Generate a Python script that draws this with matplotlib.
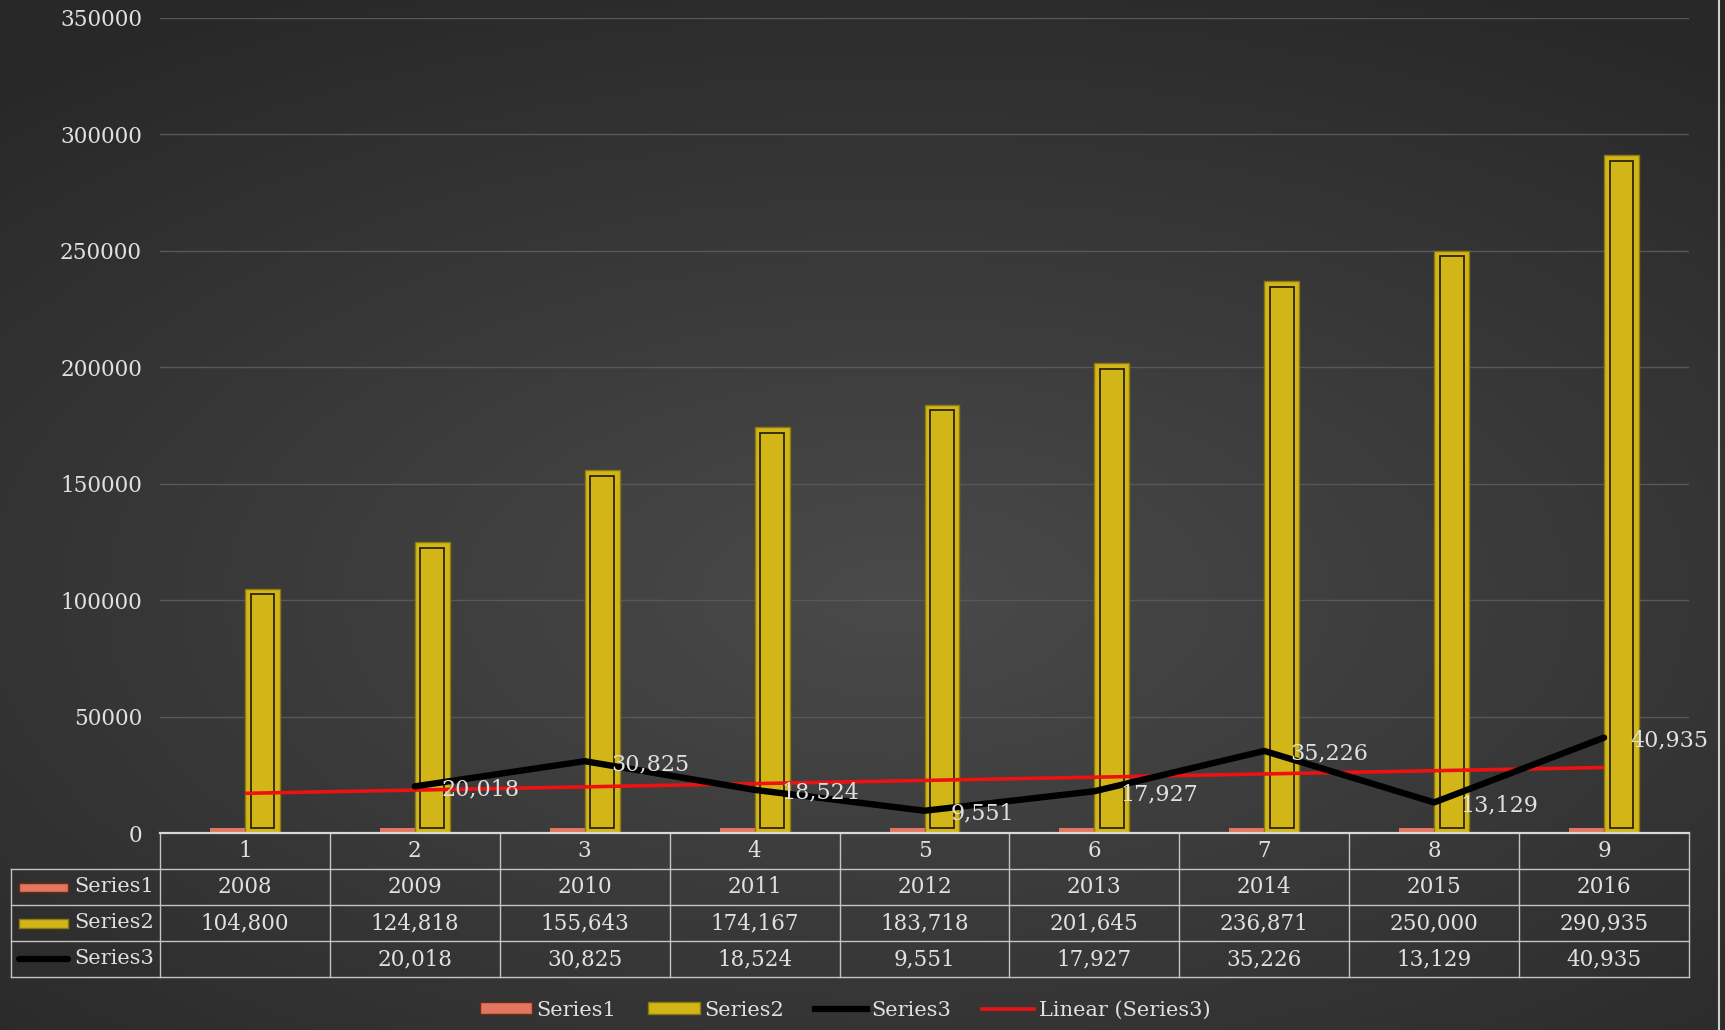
import numpy as np
import matplotlib
matplotlib.use("Agg")
import matplotlib.pyplot as plt
from matplotlib.patches import Patch, Rectangle
from matplotlib.lines import Line2D

# ---------------- data ----------------
categories = [1, 2, 3, 4, 5, 6, 7, 8, 9]
series1 = [2008, 2009, 2010, 2011, 2012, 2013, 2014, 2015, 2016]
series2 = [104800, 124818, 155643, 174167, 183718, 201645, 236871, 250000, 290935]
series3_x = [2, 3, 4, 5, 6, 7, 8, 9]
series3 = [20018, 30825, 18524, 9551, 17927, 35226, 13129, 40935]
yticks = [0, 50000, 100000, 150000, 200000, 250000, 300000, 350000]
series_names = ["Series1", "Series2", "Series3"]

# ---------------- style ----------------
FONT = "DejaVu Serif"
TXT = "#e0e0e0"
C1 = "#e2765f"
C1_EDGE = "#6a2a1c"
C2 = "#d2b617"
C2_EDGE = "#8c7a10"
C2_INNER = "#2c2400"
C3 = "#000000"
CTR = "#ee1111"
GRID = "#585858"
TABLE = "#c4c4c4"

W, H = 1725, 1030
fig = plt.figure(figsize=(W / 100, H / 100), dpi=100)

# background radial gradient
bg = fig.add_axes([0, 0, 1, 1], zorder=-10)
yy, xx = np.mgrid[0:1:300j, 0:1:500j]
d = np.sqrt(((xx - 0.52) / 1.0) ** 2 + ((yy - 0.42) / 0.85) ** 2)
v = np.clip(0.29 - 0.17 * d, 0.16, 0.30)
bg.imshow(np.dstack([v, v, v]), extent=[0, 1, 0, 1], aspect="auto", origin="lower")
bg.axis("off")

# main axes
left, right = 160 / W, 1689 / W
bottom, top = 1 - 833 / H, 1 - 17.6 / H
ax = fig.add_axes([left, bottom, right - left, top - bottom])
ax.set_facecolor("none")
for s in ax.spines.values():
    s.set_visible(False)

x = np.array(categories, dtype=float)
bw = 0.206
ax.bar(x - bw / 2, series1, width=bw, color=C1, edgecolor="none", zorder=2)
ax.bar(x + bw / 2, series2, width=bw, color=C2, edgecolor=C2_EDGE, linewidth=1.0, zorder=2)
inset = 2300
ax.bar(x + bw / 2, np.array(series2) - 2 * inset, bottom=inset, width=bw * 0.68,
       fill=False, edgecolor=C2_INNER, linewidth=1.3, zorder=3)

# trendline (linear fit of Series3)
k, b = np.polyfit(series3_x, series3, 1)
ax.plot(x, k * x + b, color=CTR, lw=2.6, zorder=4, solid_capstyle="butt")
ax.plot(series3_x, series3, color=C3, lw=4.6, zorder=5, solid_capstyle="round",
        solid_joinstyle="round")
for xi, yi in zip(series3_x, series3):
    ax.annotate(f"{yi:,}", (xi, yi), xytext=(19, -2), textcoords="offset points",
                ha="left", va="center", color=TXT, fontsize=16, family=FONT, zorder=6)

ax.set_xlim(0.5, 9.5)
ax.set_ylim(0, 350000)
ax.set_yticks(yticks)
ax.set_yticklabels([str(t) for t in yticks], family=FONT, fontsize=15.5, color=TXT)
ax.tick_params(axis="y", length=0, pad=13)
ax.set_xticks([])
ax.grid(axis="y", color=GRID, lw=1.0, zorder=0)
ax.set_axisbelow(True)

# ---------------- data table ----------------
ax_h_px = 833 - 17.6
rh = 36 / ax_h_px
label_left = (11 - 160) / 1529
n = len(categories)
tr = ax.transAxes
lk = dict(transform=tr, clip_on=False, color=TABLE, lw=1.0)
# top line (axis)
ax.add_line(Line2D([0, 1], [0, 0], transform=tr, clip_on=False, color="#d8d8d8", lw=1.6, zorder=6))
for r in range(1, 5):
    ax.add_line(Line2D([label_left, 1], [-r * rh, -r * rh], **lk))
for i in range(n + 1):
    ax.add_line(Line2D([i / n, i / n], [0, -4 * rh], **lk))
ax.add_line(Line2D([label_left, label_left], [-rh, -4 * rh], **lk))

rows = [[str(c) for c in categories],
        [str(v) for v in series1],
        [f"{v:,}" for v in series2],
        [""] + [f"{v:,}" for v in series3]]
for r, row in enumerate(rows):
    yc = -(r + 0.5) * rh
    for i, t in enumerate(row):
        ax.text((i + 0.5) / n, yc, t, transform=tr, ha="center", va="center",
                color=TXT, fontsize=15.5, family=FONT, clip_on=False)

key_x0 = (19 - 160) / 1529
key_x1 = (68 - 160) / 1529
kh = 9 / ax_h_px
for r, name in enumerate(series_names):
    yc = -(r + 1.5) * rh
    if r == 0:
        ax.add_patch(Rectangle((key_x0, yc - kh / 2), key_x1 - key_x0, kh, transform=tr,
                               clip_on=False, facecolor=C1, edgecolor=C1_EDGE, lw=1))
    elif r == 1:
        ax.add_patch(Rectangle((key_x0, yc - kh / 2), key_x1 - key_x0, kh, transform=tr,
                               clip_on=False, facecolor=C2, edgecolor=C2_EDGE, lw=1))
    else:
        ax.add_line(Line2D([key_x0, key_x1], [yc, yc], transform=tr, clip_on=False,
                           color=C3, lw=4.5, solid_capstyle="round"))
    ax.text((74 - 160) / 1529, yc, name, transform=tr, ha="left", va="center",
            color=TXT, fontsize=15, family=FONT, clip_on=False)

# ---------------- legend ----------------
handles = [Patch(facecolor=C1, edgecolor=C1_EDGE),
           Patch(facecolor=C2, edgecolor=C2_EDGE),
           Line2D([], [], color=C3, lw=4.5),
           Line2D([], [], color=CTR, lw=2.6)]
labels = series_names + ["Linear (Series3)"]
leg = fig.legend(handles, labels, loc="center", bbox_to_anchor=(0.49, 1 - 1010 / H),
                 ncol=4, frameon=False, handlelength=2.5, handleheight=0.55,
                 handletextpad=0.2, columnspacing=1.5,
                 prop={"family": FONT, "size": 15})
for t in leg.get_texts():
    t.set_color(TXT)

# right edge strip
fig.add_artist(Line2D([1718.5 / W, 1718.5 / W], [0, 1], transform=fig.transFigure,
                      color="#cfcfcf", lw=1.5))

fig.savefig("out.png", dpi=100)
